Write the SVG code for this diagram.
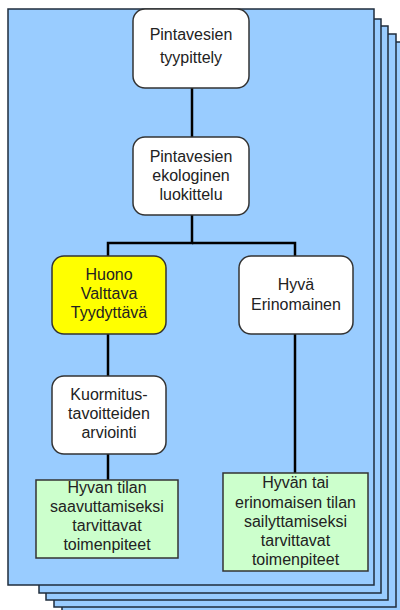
<svg xmlns="http://www.w3.org/2000/svg" width="400" height="610" viewBox="0 0 400 610">
<style>
.page{fill:#99ccff;stroke:#1f2d3d;stroke-width:1.5}
.box{fill:#ffffff;stroke:#333333;stroke-width:1.5}
.yel{fill:#ffff00;stroke:#333333;stroke-width:1.5}
.grn{fill:#ccffcc;stroke:#333333;stroke-width:1.5}
.conn{stroke:#000000;stroke-width:2.5;fill:none}
text{font-family:"Liberation Sans",Arial,sans-serif;font-size:16px;fill:#222222;text-anchor:middle}
</style>
<rect fill="#ffffff" x="0" y="0" width="400" height="610"/>
<g id="pages">
<rect class="page" x="62" y="42" width="350" height="580"/>
<rect class="page" x="54" y="34" width="342" height="573"/>
<rect class="page" x="46" y="26" width="342" height="574"/>
<rect class="page" x="39" y="19" width="342" height="574"/>
<rect class="page" x="8" y="9" width="366" height="576"/>
</g>
<g id="connectors">
<line class="conn" x1="192" y1="88" x2="192" y2="137"/>
<polyline class="conn" points="192,215 192,243 108,243 108,256"/>
<polyline class="conn" points="192,243 295,243 295,256"/>
<line class="conn" x1="108" y1="334" x2="108" y2="376"/>
<line class="conn" x1="108" y1="454" x2="108" y2="480"/>
<line class="conn" x1="295" y1="334" x2="295" y2="473"/>
</g>
<g id="n1">
<rect class="box" x="133" y="9" width="116" height="79" rx="12"/>
<text x="191" y="40">Pintavesien</text>
<text x="191" y="63">tyypittely</text>
</g>
<g id="n2">
<rect class="box" x="133" y="137" width="116" height="78" rx="12"/>
<text x="191" y="162">Pintavesien</text>
<text x="191" y="181">ekologinen</text>
<text x="191" y="200">luokittelu</text>
</g>
<g id="n3">
<rect class="yel" x="52" y="256" width="114" height="78" rx="12"/>
<text x="109" y="280">Huono</text>
<text x="109" y="299">Valttava</text>
<text x="109" y="318">Tyydyttävä</text>
</g>
<g id="n4">
<rect class="box" x="239" y="256" width="114" height="78" rx="12"/>
<text x="296" y="290">Hyvä</text>
<text x="296" y="310">Erinomainen</text>
</g>
<g id="n5">
<rect class="box" x="52" y="376" width="114" height="78" rx="12"/>
<text x="109" y="400">Kuormitus-</text>
<text x="109" y="419">tavoitteiden</text>
<text x="109" y="438">arviointi</text>
</g>
<g id="n6">
<rect class="grn" x="36" y="480" width="142" height="78"/>
<text x="107" y="493">Hyvan tilan</text>
<text x="107" y="512">saavuttamiseksi</text>
<text x="107" y="531">tarvittavat</text>
<text x="107" y="550">toimenpiteet</text>
</g>
<g id="n7">
<rect class="grn" x="223" y="473" width="145" height="98"/>
<text x="295.5" y="488">Hyvän tai</text>
<text x="295.5" y="508">erinomaisen tilan</text>
<text x="295.5" y="527">sailyttamiseksi</text>
<text x="295.5" y="546">tarvittavat</text>
<text x="295.5" y="565">toimenpiteet</text>
</g>
</svg>
